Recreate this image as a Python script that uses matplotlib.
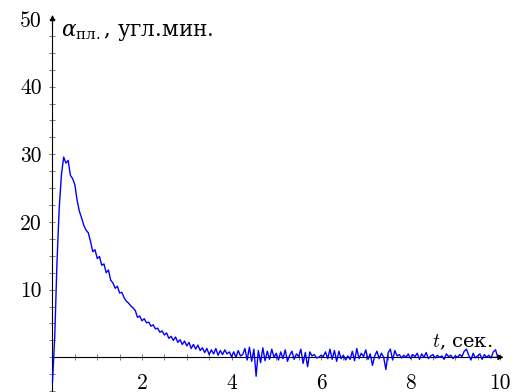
import numpy as np
import matplotlib
matplotlib.use("Agg")
import matplotlib.pyplot as plt
from matplotlib.ticker import FixedLocator

# --- data ---
t_sec = np.linspace(0, 10, 201)
alpha_vals = [
    -3.6, 3.0, 14.0, 22.0, 27.0, 29.6, 28.7, 29.1, 26.9, 26.4, 25.5, 23.2, 21.6, 20.6, 19.5, 18.8, 18.4, 17.1, 15.6, 15.9,
    14.6, 14.9, 13.6, 13.8, 12.5, 12.9, 11.4, 11.0, 10.2, 10.5, 9.5, 9.6, 8.8, 8.3, 8.0, 7.6, 7.3, 6.9, 5.9, 6.1,
    5.4, 5.7, 5.1, 5.2, 4.6, 4.8, 4.2, 4.3, 3.7, 3.9, 3.3, 3.6, 2.8, 3.1, 2.5, 3.0, 2.2, 2.6, 1.9, 2.4,
    1.7, 2.2, 1.3, 1.9, 1.2, 1.8, 1.0, 1.4, 0.7, 1.3, 0.4, 1.1, 0.5, 1.3, 0.3, 1.0, 0.4, 1.1, 0.5, 0.8,
    0.1, 0.8, 0.0, 1.0, 0.2, 0.4, 1.3, -0.4, 1.5, -0.6, 1.2, -2.8, 1.0, -0.8, 1.4, -0.5, 0.9, -0.3, 1.2, 0.0,
    0.6, -0.4, 0.8, -0.2, 1.1, -0.6, 0.3, 0.9, -0.3, 0.5, 0.1, 1.2, -0.9, 0.7, -1.4, 0.8, 0.2, 0.4, -0.1, 0.0,
    0.3, 0.1, 0.8, -0.2, 1.2, -0.3, 1.0, -0.6, 0.9, -0.2, 0.3, -0.4, 0.2, -0.3, 0.9, -0.5, 1.3, -0.2, 0.6, 0.1,
    1.1, -0.3, 0.5, -1.2, 0.2, 0.9, -0.2, 0.6, 0.0, -1.8, 0.7, 1.2, -0.4, 1.0, 0.2, 0.4, -0.1, 0.3, 0.0, 0.5,
    -0.2, 0.4, 0.1, 0.6, -0.3, 0.5, 0.0, 0.7, -0.2, 0.2, 0.4, -0.1, 0.3, 0.0, 0.2, -0.3, 0.5, 0.1, 0.3, -0.2,
    0.2, 0.0, 0.4, 0.1, 0.9, 1.2, 0.3, -0.4, 0.6, -0.1, 0.2, 0.5, -0.3, 0.4, 0.0, 0.3, -0.1, 0.8, 1.1, 0.0,
    0.2,
]
x_ticks = [2, 4, 6, 8, 10]
x_tick_labels = ["2", "4", "6", "8", "10"]
y_ticks = [10, 20, 30, 40, 50]
y_tick_labels = ["10", "20", "30", "40", "50"]
y_label = r"$\alpha_{\mathrm{пл.}}$, угл.мин."
x_label = r"$t$, сек."

fig = plt.figure(figsize=(5.27, 3.92), dpi=100)
ax = fig.add_axes([0, 0, 1, 1])
ax.set_xlim(-1.173, 10.603)
ax.set_ylim(-5.13, 52.81)
ax.patch.set_visible(False)

ax.plot(t_sec, alpha_vals, color=(0, 0, 1), lw=1.0, zorder=3, clip_on=False)

for s in ["top", "right"]:
    ax.spines[s].set_visible(False)
ax.spines["left"].set_position(("data", 0))
ax.spines["bottom"].set_position(("data", 0))
ax.spines["left"].set_bounds(-5.2, 50.2)
ax.spines["bottom"].set_bounds(0, 10.0)
for s in ["left", "bottom"]:
    ax.spines[s].set_linewidth(0.8)

# arrowheads
ax.annotate("", xy=(10.08, 0), xytext=(9.8, 0),
            arrowprops=dict(arrowstyle="-|>", color="k", lw=0.8, mutation_scale=8, shrinkA=0, shrinkB=0))
ax.annotate("", xy=(0, 50.6), xytext=(0, 48.5),
            arrowprops=dict(arrowstyle="-|>", color="k", lw=0.8, mutation_scale=8, shrinkA=0, shrinkB=0))

ax.set_xticks(x_ticks)
ax.set_xticklabels(x_tick_labels)
ax.set_yticks(y_ticks)
ax.set_yticklabels(y_tick_labels)
ax.xaxis.set_minor_locator(FixedLocator(np.arange(0.5, 10.01, 0.5)))
ax.yaxis.set_minor_locator(FixedLocator(np.arange(-5.0, 50.01, 2.5)))
ax.tick_params(which="both", direction="inout", width=0.5, color="#444444")
ax.tick_params(which="major", length=5)
ax.tick_params(which="minor", length=4)
ax.tick_params(axis="x", which="major", pad=9)
ax.tick_params(axis="y", which="major", pad=5)
for lab in ax.get_xticklabels() + ax.get_yticklabels():
    lab.set_fontfamily("cmr10")
    lab.set_fontsize(15.5)

ax.text(0.2, 47.5, y_label, family="DejaVu Serif", math_fontfamily="dejavuserif",
        fontsize=15.5, ha="left", va="baseline")
ax.text(8.47, 1.4, x_label, family="DejaVu Serif", math_fontfamily="cm",
        fontsize=14, ha="left", va="baseline")

fig.savefig("out.png", dpi=100)
